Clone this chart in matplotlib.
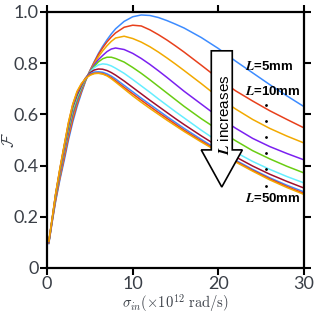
import matplotlib.pyplot as plt
import matplotlib.patches as mpatches

plt.rcParams['mathtext.fontset'] = 'cm'

# sample points along sigma_in (x 1e12 rad/s)
sigma = [0.2, 0.6, 1, 1.5, 2, 2.5, 3, 3.5, 4, 4.5, 5, 5.5, 6, 6.5, 7, 7.5, 8,
         9, 10, 11, 12, 13, 14, 15, 16, 18, 20, 22, 24, 26, 28, 30]

# F for L = 5, 10, ..., 50 mm
F_L5 = [0.095, 0.18, 0.26, 0.345, 0.42, 0.5, 0.57, 0.63, 0.682, 0.73, 0.77, 0.805, 0.838, 0.866, 0.891, 0.914, 0.934,
        0.963, 0.981, 0.988, 0.986, 0.978, 0.966, 0.952, 0.937, 0.9, 0.857, 0.808, 0.762, 0.716, 0.672, 0.63]
F_L10 = [0.097, 0.183, 0.265, 0.352, 0.43, 0.51, 0.58, 0.638, 0.688, 0.733, 0.77, 0.803, 0.834, 0.86, 0.883, 0.902, 0.918,
         0.94, 0.948, 0.945, 0.93, 0.911, 0.89, 0.867, 0.843, 0.792, 0.74, 0.692, 0.652, 0.614, 0.58, 0.547]
F_L15 = [0.098, 0.186, 0.27, 0.358, 0.44, 0.52, 0.59, 0.645, 0.692, 0.734, 0.768, 0.798, 0.825, 0.848, 0.868, 0.885, 0.898,
         0.905, 0.896, 0.882, 0.864, 0.843, 0.82, 0.796, 0.771, 0.72, 0.667, 0.621, 0.58, 0.545, 0.515, 0.488]
F_L20 = [0.099, 0.188, 0.275, 0.365, 0.45, 0.53, 0.6, 0.652, 0.697, 0.736, 0.767, 0.793, 0.814, 0.83, 0.845, 0.855, 0.859,
         0.853, 0.838, 0.818, 0.795, 0.77, 0.744, 0.717, 0.69, 0.64, 0.59, 0.546, 0.506, 0.474, 0.447, 0.422]
F_L25 = [0.1, 0.19, 0.28, 0.372, 0.46, 0.54, 0.61, 0.66, 0.702, 0.737, 0.765, 0.787, 0.805, 0.817, 0.823, 0.823, 0.818,
         0.804, 0.783, 0.76, 0.735, 0.709, 0.683, 0.657, 0.631, 0.583, 0.539, 0.497, 0.458, 0.426, 0.397, 0.371]
F_L30 = [0.1, 0.191, 0.284, 0.378, 0.467, 0.55, 0.62, 0.668, 0.707, 0.74, 0.764, 0.782, 0.793, 0.797, 0.795, 0.789, 0.78,
         0.76, 0.736, 0.711, 0.686, 0.66, 0.635, 0.61, 0.586, 0.538, 0.493, 0.452, 0.416, 0.385, 0.357, 0.332]
F_L35 = [0.101, 0.192, 0.287, 0.382, 0.472, 0.556, 0.628, 0.675, 0.711, 0.742, 0.762, 0.773, 0.777, 0.776, 0.771, 0.763, 0.753,
         0.73, 0.705, 0.68, 0.655, 0.631, 0.607, 0.583, 0.56, 0.516, 0.474, 0.434, 0.398, 0.366, 0.338, 0.312]
F_L40 = [0.102, 0.193, 0.288, 0.385, 0.476, 0.562, 0.634, 0.682, 0.715, 0.742, 0.758, 0.765, 0.766, 0.764, 0.758, 0.749, 0.738,
         0.713, 0.688, 0.663, 0.639, 0.615, 0.591, 0.568, 0.545, 0.502, 0.461, 0.421, 0.385, 0.352, 0.323, 0.297]
F_L45 = [0.103, 0.194, 0.289, 0.387, 0.478, 0.566, 0.638, 0.686, 0.717, 0.741, 0.755, 0.76, 0.761, 0.759, 0.752, 0.743, 0.731,
         0.705, 0.68, 0.655, 0.631, 0.607, 0.584, 0.561, 0.538, 0.496, 0.456, 0.417, 0.381, 0.348, 0.318, 0.291]
F_L50 = [0.104, 0.195, 0.29, 0.39, 0.48, 0.57, 0.64, 0.69, 0.72, 0.74, 0.752, 0.759, 0.76, 0.757, 0.75, 0.739, 0.726,
         0.699, 0.672, 0.647, 0.623, 0.6, 0.577, 0.555, 0.533, 0.492, 0.453, 0.414, 0.378, 0.344, 0.314, 0.287]

curves = [F_L5, F_L10, F_L15, F_L20, F_L25, F_L30, F_L35, F_L40, F_L45, F_L50]
colors = ['#3d8cff', '#e8401c', '#f2a900', '#7b20f0', '#6acd12', '#66eeff',
          '#a0102e', '#3d8cff', '#e8401c', '#f2a900']

fig = plt.figure(figsize=(3.16, 3.13), dpi=100)
ax = fig.add_axes([0.149, 0.144, 0.813, 0.818])

for F, c in zip(curves, colors):
    ax.plot(sigma, F, color=c, lw=1.1)

ax.set_xlim(0, 30)
ax.set_ylim(0, 1.0)
ax.set_xticks([0, 10, 20, 30])
ax.set_yticks([0, 0.2, 0.4, 0.6, 0.8, 1.0])
ax.set_yticklabels(['0', '0.2', '0.4', '0.6', '0.8', '1.0'])
ax.tick_params(direction='out', length=5, width=1.5, top=True, right=True,
               labeltop=False, labelright=False, labelsize=13,
               labelcolor='#3a3f47', pad=1)
for lab in ax.get_xticklabels() + ax.get_yticklabels():
    lab.set_family('Lato')
for s in ax.spines.values():
    s.set_linewidth(1.6)

ax.set_xlabel(r'$\sigma_{in}(\times10^{12}\ \mathrm{rad/s})$', fontsize=10.5,
              color='#3a3f47', labelpad=0)
ax.set_ylabel(r'$\mathcal{F}$', fontsize=12, color='#3a3f47')
ax.yaxis.set_label_coords(-0.115, 0.5)

# block arrow "L increases"
arrow = mpatches.FancyArrow(20.4, 0.848, 0, -0.532, width=2.45, head_width=4.8,
                            head_length=0.145, length_includes_head=True,
                            fc='white', ec='black', lw=1.2, zorder=3)
ax.add_patch(arrow)
ax.text(20.75, 0.598, r'$\boldsymbol{L}$ increases', rotation=90, ha='center',
        va='center', fontsize=11, family='Liberation Sans', zorder=4)

# labels on the right
ax.text(23.1, 0.786, r'$\boldsymbol{L}$=5mm', fontsize=9.5, fontweight='bold',
        family='Liberation Sans', va='center')
ax.text(23.1, 0.689, r'$\boldsymbol{L}$=10mm', fontsize=9.5, fontweight='bold',
        family='Liberation Sans', va='center')
ax.text(23.1, 0.27, r'$\boldsymbol{L}$=50mm', fontsize=9.5, fontweight='bold',
        family='Liberation Sans', va='center')
dot_x = [25.55] * 6
dot_y = [0.637, 0.572, 0.513, 0.448, 0.386, 0.32]
ax.plot(dot_x, dot_y, 'k.', ms=2)

plt.savefig('out.png', dpi=100)
